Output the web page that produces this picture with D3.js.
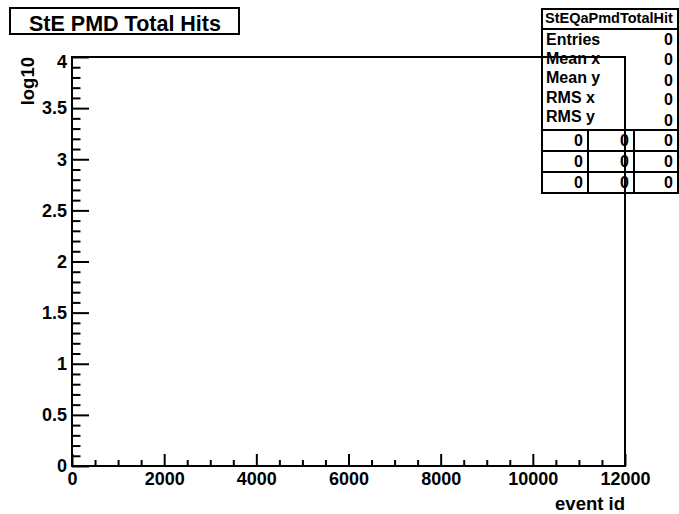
<!DOCTYPE html>
<html>
<head>
<meta charset="utf-8">
<script src="https://cdn.jsdelivr.net/npm/d3@7"></script>
<style>
  html, body { margin: 0; padding: 0; background: #fff; }
  svg { display: block; }
  text { font-family: "Liberation Sans", Arial, Helvetica, sans-serif; font-weight: bold; fill: #000; }
</style>
</head>
<body>
<div id="chart"></div>
<script>
// ---- data ----
const titleText = "StE PMD Total Hits";
const histName = "StEQaPmdTotalHit";
const xDomain = [0, 12000];
const yDomain = [0, 4];
const xMajorTicks = [0, 2000, 4000, 6000, 8000, 10000, 12000];
const yMajorTicks = [0, 0.5, 1, 1.5, 2, 2.5, 3, 3.5, 4];
const xLabel = "event id";
const yLabel = "log10";
const binValues = [];               // histogram is empty
const statsLabels = ["Entries", "Mean x", "Mean y", "RMS x", "RMS y"];
const statsValues = [0, 0, 0, 0, 0];
const overflowGrid = [[0, 0, 0], [0, 0, 0], [0, 0, 0]];

// ---- layout ----
const W = 679, H = 514;
const F = { left: 72, right: 625, top: 57, bottom: 466 };

const svg = d3.select("#chart").append("svg").attr("width", W).attr("height", H);

const x = d3.scaleLinear().domain(xDomain).range([F.left, F.right]);
const y = d3.scaleLinear().domain(yDomain).range([F.bottom, F.top]);

// minor ticks
const xMinor = d3.range(xDomain[0], xDomain[1] + 1, 500).filter(v => v % 2000 !== 0);
const yMinor = d3.range(0, 41).map(i => i / 10).filter(v => Math.abs(v * 2 - Math.round(v * 2)) > 1e-6);

// stats box (drawn first, frame drawn over it)
const sb = { x0: 542, x1: 678, y0: 9, hdr: 29, sep: 130, rowH: 21 };
const stats = svg.append("g");
stats.append("rect").attr("x", sb.x0).attr("y", sb.y0).attr("width", sb.x1 - sb.x0)
  .attr("height", sb.sep + overflowGrid.length * sb.rowH + 0 - sb.y0)
  .attr("fill", "#fff").attr("stroke", "#000").attr("stroke-width", 2);
stats.append("line").attr("x1", sb.x0).attr("x2", sb.x1).attr("y1", sb.hdr).attr("y2", sb.hdr)
  .attr("stroke", "#000").attr("stroke-width", 2);
stats.append("text").attr("x", sb.x0 + 3).attr("y", 23).attr("font-size", 14.5).text(histName);
const labelBase = [45, 64, 83, 103, 122];
const valueBase = [45, 65, 86, 105, 126];
statsLabels.forEach((l, i) => {
  stats.append("text").attr("x", sb.x0 + 4).attr("y", labelBase[i]).attr("font-size", 16).text(l);
  stats.append("text").attr("x", sb.x1 - 5).attr("y", valueBase[i]).attr("font-size", 16)
    .attr("text-anchor", "end").text(statsValues[i]);
});
const colEdges = [sb.x0, 588, 634, sb.x1];
overflowGrid.forEach((row, r) => {
  const top = sb.sep + r * sb.rowH;
  stats.append("line").attr("x1", sb.x0).attr("x2", sb.x1).attr("y1", top).attr("y2", top)
    .attr("stroke", "#000").attr("stroke-width", 2);
  row.forEach((v, c) => {
    stats.append("text").attr("x", colEdges[c + 1] - 5).attr("y", top + 16).attr("font-size", 16)
      .attr("text-anchor", "end").text(v);
  });
});
[588, 634].forEach(cx => {
  stats.append("line").attr("x1", cx).attr("x2", cx).attr("y1", sb.sep)
    .attr("y2", sb.sep + overflowGrid.length * sb.rowH).attr("stroke", "#000").attr("stroke-width", 2);
});

// histogram bars (none)
svg.append("g").selectAll("rect").data(binValues).join("rect");

// axes
const fmt = d => String(d);
const xAxisMajor = d3.axisBottom(x).tickValues(xMajorTicks).tickFormat(fmt)
  .tickSizeInner(-12).tickSizeOuter(0).tickPadding(6);
const xAxisMinor = d3.axisBottom(x).tickValues(xMinor).tickFormat("").tickSizeInner(-6).tickSizeOuter(0);
const yAxisMajor = d3.axisLeft(y).tickValues(yMajorTicks).tickFormat(fmt)
  .tickSizeInner(-17).tickSizeOuter(0).tickPadding(5);
const yAxisMinor = d3.axisLeft(y).tickValues(yMinor).tickFormat("").tickSizeInner(-8.5).tickSizeOuter(0);

function styleAxis(g) {
  g.select(".domain").remove();
  g.selectAll(".tick line").attr("stroke", "#000").attr("stroke-width", 2);
  g.selectAll("text").attr("font-size", 18).attr("font-family", "Liberation Sans, Arial, sans-serif")
    .attr("font-weight", "bold").attr("fill", "#000");
}
svg.append("g").attr("transform", `translate(0,${F.bottom})`).call(xAxisMinor).call(styleAxis);
svg.append("g").attr("transform", `translate(0,${F.bottom})`).call(xAxisMajor).call(styleAxis);
svg.append("g").attr("transform", `translate(${F.left},0)`).call(yAxisMinor).call(styleAxis);
const yg = svg.append("g").attr("transform", `translate(${F.left},0)`).call(yAxisMajor).call(styleAxis);
yg.selectAll(".tick").filter(d => d === yDomain[1]).select("text").attr("dy", "0.6em");

// frame
svg.append("rect").attr("x", F.left).attr("y", F.top).attr("width", F.right - F.left)
  .attr("height", F.bottom - F.top).attr("fill", "none").attr("stroke", "#000").attr("stroke-width", 2);

// axis titles
svg.append("text").attr("x", F.right).attr("y", 510).attr("text-anchor", "end")
  .attr("font-size", 18.5).text(xLabel);
svg.append("text").attr("transform", `translate(34,${F.top}) rotate(-90)`).attr("text-anchor", "end")
  .attr("font-size", 18.5).text(yLabel);

// title box
svg.append("rect").attr("x", 10).attr("y", 8).attr("width", 229).attr("height", 26)
  .attr("fill", "#fff").attr("stroke", "#000").attr("stroke-width", 2);
svg.append("text").attr("x", 125).attr("y", 31).attr("text-anchor", "middle")
  .attr("font-size", 21.5).text(titleText);
</script>
</body>
</html>
